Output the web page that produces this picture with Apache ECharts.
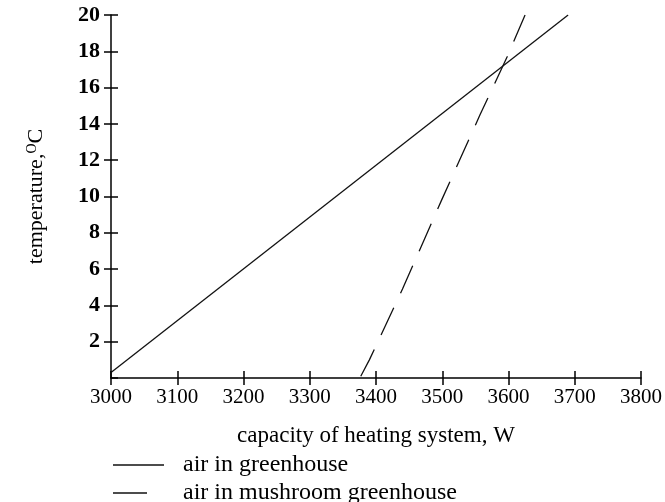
<!DOCTYPE html>
<html>
<head>
<meta charset="utf-8">
<style>
  html, body { margin: 0; padding: 0; background: #fff; }
  #main { width: 665px; height: 502px; }
</style>
<script src="https://cdn.jsdelivr.net/npm/echarts@6/dist/echarts.min.js"></script>
</head>
<body>
<div id="main"></div>
<script>
// 数据
var xTicks = [3000, 3100, 3200, 3300, 3400, 3500, 3600, 3700, 3800];
var yTicks = [0, 2, 4, 6, 8, 10, 12, 14, 16, 18, 20];
var seriesNames = ['air in greenhouse', 'air in mushroom greenhouse'];
// 温室空气 (W, °C)
var greenhouse = [[3000, 0.3], [3690, 20]];
// 蘑菇温室空气
var mushroom = [[3377, 0.1], [3390, 1.0], [3440, 4.9], [3499, 9.8], [3557, 14.5], [3598, 17.7], [3625, 20]];

var serif = '"Liberation Serif", "Times New Roman", serif';
var myChart = echarts.init(document.getElementById('main'));

function axisX(main) {
    return {
        type: 'value',
        position: 'bottom',
        min: xTicks[0],
        max: xTicks[xTicks.length - 1],
        interval: 100,
        splitLine: { show: false },
        axisLine: { show: main, onZero: false, lineStyle: { color: '#000', width: 1.5 } },
        axisTick: { show: true, inside: !main, length: 7, lineStyle: { color: '#000', width: 1.5 } },
        axisLabel: {
            show: main, margin: 9, color: '#000',
            fontFamily: serif, fontSize: 21,
            formatter: function (v) { return String(v); }
        },
        name: main ? 'capacity of heating system, W' : '',
        nameLocation: 'middle',
        nameGap: 46,
        nameTextStyle: { color: '#000', fontFamily: serif, fontSize: 23 }
    };
}

function axisY(main) {
    return {
        type: 'value',
        position: 'left',
        min: yTicks[0],
        max: yTicks[yTicks.length - 1],
        interval: 2,
        splitLine: { show: false },
        axisLine: { show: main, onZero: false, lineStyle: { color: '#000', width: 1.5 } },
        axisTick: { show: true, inside: !main, length: 7, lineStyle: { color: '#000', width: 1.5 } },
        axisLabel: {
            show: main, margin: 11, color: '#000', showMinLabel: false,
            fontFamily: serif, fontSize: 22, fontWeight: 'bold'
        },
        name: main ? 'temperature,{sup|O}C' : '',
        nameLocation: 'middle',
        nameGap: 64,
        nameTextStyle: {
            color: '#000', fontFamily: serif, fontSize: 22,
            rich: { sup: { fontFamily: serif, fontSize: 14, verticalAlign: 'top', color: '#000' } }
        }
    };
}

var option = {
    backgroundColor: '#fff',
    animation: false,
    grid: { left: 111, right: 24, top: 15, bottom: 124 },
    legend: [{
        data: [{ name: seriesNames[0], icon: 'rect' }],
        left: 108, top: 448, orient: 'vertical',
        itemWidth: 51, itemHeight: 1.5,
        textStyle: { color: '#000', fontFamily: serif, fontSize: 24, padding: [0, 0, 0, 14] }
    }, {
        data: [{ name: seriesNames[1], icon: 'rect' }],
        left: 108, top: 476, orient: 'vertical',
        itemWidth: 34, itemHeight: 1.5,
        textStyle: { color: '#000', fontFamily: serif, fontSize: 24, padding: [0, 0, 0, 31] }
    }],
    xAxis: [axisX(true), axisX(false)],
    yAxis: [axisY(true), axisY(false)],
    series: [{
        name: seriesNames[0],
        type: 'line',
        data: greenhouse,
        showSymbol: false,
        color: '#111',
        lineStyle: { width: 1.3, color: '#111' }
    }, {
        name: seriesNames[1],
        type: 'line',
        data: mushroom,
        showSymbol: false,
        color: '#111',
        lineStyle: { width: 1.3, color: '#111', type: [30, 16] }
    }]
};
myChart.setOption(option);
</script>
</body>
</html>
